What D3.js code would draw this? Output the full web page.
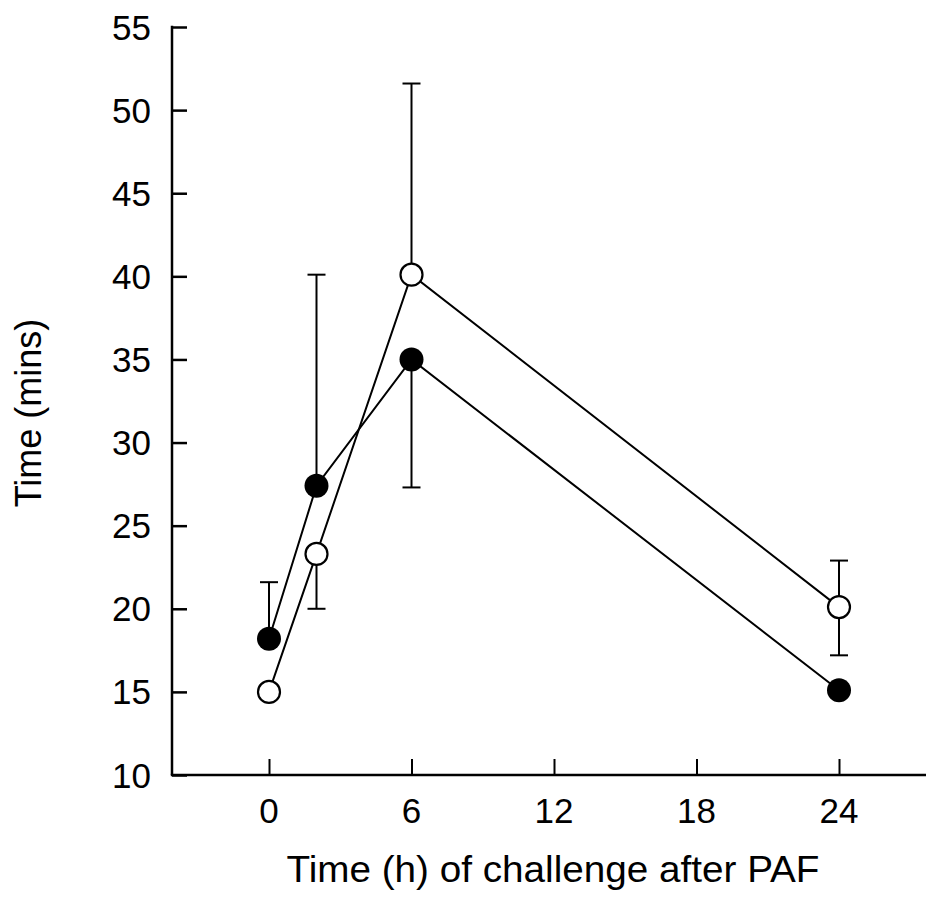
<!DOCTYPE html>
<html><head><meta charset="utf-8">
<script src="https://cdn.jsdelivr.net/npm/d3@7"></script>
<style>body{margin:0;background:#fff}svg{display:block}text{font-family:"Liberation Sans",Arial,sans-serif;fill:#000}</style>
</head><body><div id="chart"></div>
<script>
const hours = [0, 2, 6, 24];
const openValues = [15.0, 23.3, 40.1, 20.1];
const filledValues = [18.2, 27.4, 35.0, 15.1];
// error bars: only the side shown in the figure
const openErrLow  = [null, 20.0, null, 17.2];
const openErrHigh = [null, null, 51.6, 22.9];
const filledErrLow  = [null, null, 27.3, null];
const filledErrHigh = [21.6, 40.1, null, null];
const xTicks = [0, 6, 12, 18, 24];
const yTicks = [10, 15, 20, 25, 30, 35, 40, 45, 50, 55];
const xTitle = "Time (h) of challenge after PAF";
const yTitle = "Time (mins)";

const W = 926, H = 897;
const svg = d3.select("#chart").append("svg").attr("width", W).attr("height", H);
const x = d3.scaleLinear().domain([0, 24]).range([269, 839]);
const y = d3.scaleLinear().domain([10, 55]).range([775, 27]);
const axisLeftX = 172, axisRightX = 926;

// y axis (ticks pointing inward)
const gy = svg.append("g").attr("transform", `translate(${axisLeftX},0)`)
  .call(d3.axisRight(y).tickValues(yTicks).tickSize(15).tickFormat(""));
gy.select(".domain").remove();
gy.selectAll("line").attr("stroke", "#000").attr("stroke-width", 2.5);
svg.append("line").attr("x1", axisLeftX).attr("x2", axisLeftX).attr("y1", y(55) - 1.2).attr("y2", y(10))
  .attr("stroke", "#000").attr("stroke-width", 2.5);
svg.selectAll(".ylab").data(yTicks).enter().append("text")
  .attr("x", 151).attr("y", d => y(d)).attr("dy", "0.36em")
  .attr("text-anchor", "end").attr("font-size", 35).text(d => d);

// x axis (ticks pointing inward)
const gx = svg.append("g").attr("transform", `translate(0,${y(10)})`)
  .call(d3.axisTop(x).tickValues(xTicks).tickSize(16).tickFormat(""));
gx.select(".domain").remove();
gx.selectAll("line").attr("stroke", "#000").attr("stroke-width", 2);
svg.append("line").attr("x1", axisLeftX - 1.2).attr("x2", axisRightX).attr("y1", y(10)).attr("y2", y(10))
  .attr("stroke", "#000").attr("stroke-width", 2.5);
svg.selectAll(".xlab").data(xTicks).enter().append("text")
  .attr("x", d => x(d)).attr("y", 823)
  .attr("text-anchor", "middle").attr("font-size", 35).text(d => d);

svg.append("text").attr("x", 553).attr("y", 882)
  .attr("text-anchor", "middle").attr("font-size", 36)
  .attr("textLength", 533).attr("lengthAdjust", "spacingAndGlyphs").text(xTitle);
svg.append("text").attr("transform", `translate(41,413) rotate(-90)`)
  .attr("text-anchor", "middle").attr("font-size", 36).text(yTitle);

function errBars(vals, lo, hi) {
  hours.forEach((h, i) => {
    [lo[i], hi[i]].forEach(e => {
      if (e == null) return;
      svg.append("line").attr("x1", x(h)).attr("x2", x(h)).attr("y1", y(vals[i])).attr("y2", y(e))
        .attr("stroke", "#000").attr("stroke-width", 2);
      svg.append("line").attr("x1", x(h) - 9).attr("x2", x(h) + 9).attr("y1", y(e)).attr("y2", y(e))
        .attr("stroke", "#000").attr("stroke-width", 2);
    });
  });
}
errBars(openValues, openErrLow, openErrHigh);
errBars(filledValues, filledErrLow, filledErrHigh);

const line = d3.line().x((d, i) => x(hours[i])).y(d => y(d));
svg.append("path").datum(openValues).attr("d", line).attr("fill", "none").attr("stroke", "#000").attr("stroke-width", 2);
svg.append("path").datum(filledValues).attr("d", line).attr("fill", "none").attr("stroke", "#000").attr("stroke-width", 2);

svg.selectAll(".fc").data(filledValues).enter().append("circle")
  .attr("cx", (d, i) => x(hours[i])).attr("cy", d => y(d)).attr("r", 12)
  .attr("fill", "#000");
svg.selectAll(".oc").data(openValues).enter().append("circle")
  .attr("cx", (d, i) => x(hours[i])).attr("cy", d => y(d)).attr("r", 11)
  .attr("fill", "#fff").attr("stroke", "#000").attr("stroke-width", 2.2);
</script></body></html>
